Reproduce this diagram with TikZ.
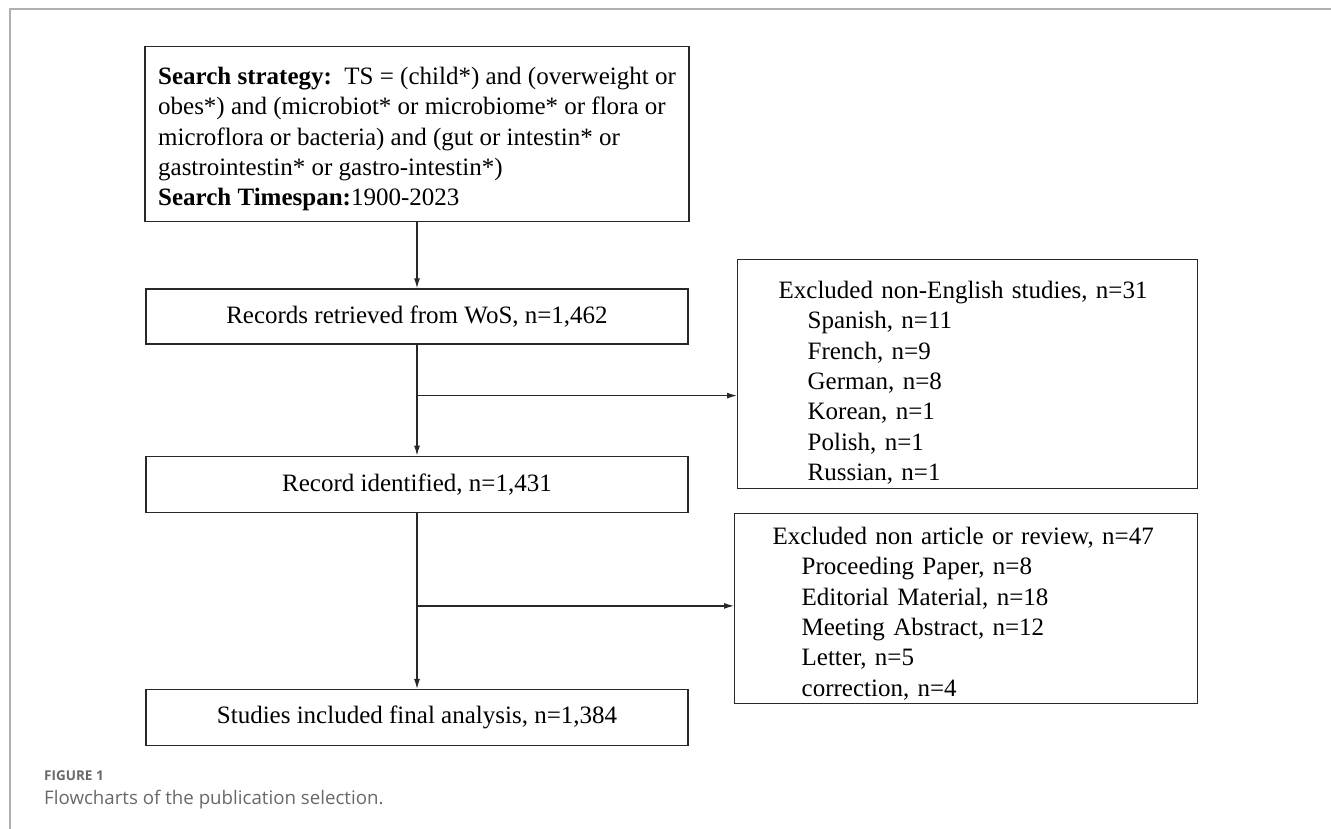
\documentclass[tikz,border=0pt]{standalone}
\usepackage{fontspec}
\setmainfont{Liberation Serif}
\newfontfamily\captionfont{Open Sans}
\usetikzlibrary{positioning,arrows.meta}
\newcommand{\subline}{\hspace*{29pt}}
\frenchspacing

\begin{document}
\begin{tikzpicture}[x=1pt, y=-1pt,
    >={Latex[length=10pt,width=6pt]},
    box/.style={draw=boxline, line width=1.3pt, rectangle, font=\fontsize{25pt}{30.3pt}\selectfont},
    stepbox/.style={box, minimum width=542pt, minimum height=56pt},
    flow/.style={->, draw=boxline, line width=1.2pt}]

    % Colors
    \definecolor{boxline}{RGB}{40,40,40}
    \definecolor{framegray}{RGB}{175,175,175}
    \definecolor{captiongray}{RGB}{105,105,105}

    \useasboundingbox (0,0) rectangle (1331,829);

    % Frame
    \draw[framegray, line width=2pt] (10,829) -- (10,9) -- (1331,9);

    % Search
    \node (search) [box, anchor=north, align=left, minimum width=544pt, inner ysep=0pt, text height=159pt, text depth=16pt] at (417,46) {\textbf{Search strategy:}\ \ TS = (child*) and (overweight or\\obes*) and (microbiot* or microbiome* or flora or\\microflora or bacteria) and (gut or intestin* or\\gastrointestin* or gastro-intestin*)\\\textbf{Search Timespan:}1900-2023};

    % Main steps
    \node (retrieved) [stepbox, minimum height=55pt, below=66pt of search] {Records retrieved from WoS, n=1,462};
    \node (identified) [stepbox, below=111pt of retrieved] {Record identified, n=1,431};
    \node (included) [stepbox, below=176pt of identified] {Studies included final analysis, n=1,384};

    % Exclusions
    \node (nonenglish) [box, anchor=north west, align=left, inner xsep=41pt, inner ysep=0pt, text width=378pt, text height=39pt, text depth=190pt] at (737,259) {Excluded non-English studies, n=31\\\subline Spanish, n=11\\\subline French, n=9\\\subline German, n=8\\\subline Korean, n=1\\\subline Polish, n=1\\\subline Russian, n=1};
    \node (nonarticle) [box, anchor=north west, align=left, inner xsep=38pt, inner ysep=0pt, text width=387pt, text height=31pt, text depth=159pt] at (734,513) {Excluded non article or review, n=47\\\subline Proceeding Paper, n=8\\\subline Editorial Material, n=18\\\subline Meeting Abstract, n=12\\\subline Letter, n=5\\\subline correction, n=4};

    % Connections
    \draw[flow] (search) -- (retrieved);
    \draw[flow] (retrieved) -- (identified);
    \draw[flow] (identified) -- (included);
    \path (retrieved.south) ++(0,51) coordinate (split1);
    \path (identified.south) ++(0,93) coordinate (split2);
    \draw[flow] (split1) -- (split1 -| nonenglish.west);
    \draw[flow] (split2) -- (split2 -| nonarticle.west);

    % Caption
    \node (figlabel) [anchor=base west, inner sep=0pt, text=captiongray, font=\captionfont\bfseries\fontsize{13.5pt}{16pt}\selectfont] at (44,780) {FIGURE 1};
    \node (figcaption) [anchor=base west, inner sep=0pt, text=captiongray, font=\captionfont\fontsize{18.7pt}{22pt}\selectfont] at (44,804) {Flowcharts of the publication selection.};

\end{tikzpicture}
\end{document}
